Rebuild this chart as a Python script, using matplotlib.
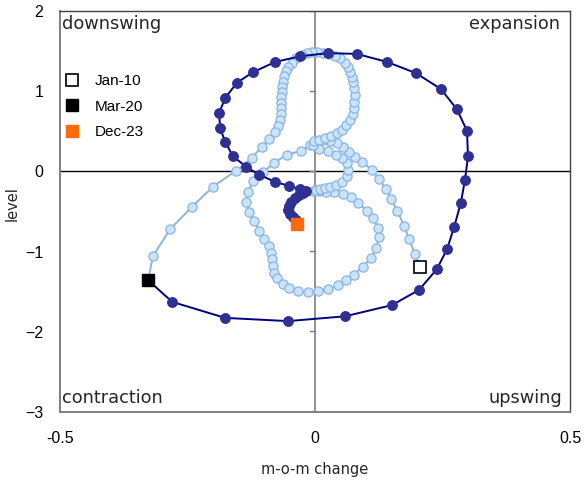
import matplotlib
matplotlib.use("Agg")
import matplotlib.pyplot as plt

# Jan-10 .. Mar-20 (light series)
light_x = [0.206, 0.196, 0.184, 0.175, 0.161, 0.149, 0.139, 0.125, 0.112, 0.092,
           0.078, 0.067, 0.055, 0.043, 0.029, 0.016, 0.004, -0.010, -0.027, -0.055,
           -0.080, -0.102, -0.122, -0.131, -0.135, -0.129, -0.120, -0.110, -0.100, -0.090,
           -0.086, -0.084, -0.082, -0.080, -0.075, -0.063, -0.051, -0.033, -0.014, 0.006,
           0.025, 0.045, 0.061, 0.076, 0.094, 0.110, 0.120, 0.125, 0.124, 0.114,
           0.102, 0.084, 0.071, 0.055, 0.037, 0.022, 0.008, -0.004, 0.002, 0.010,
           0.020, 0.029, 0.041, 0.053, 0.063, 0.065, 0.063, 0.053, 0.041, 0.025,
           0.008, -0.004, -0.002, 0.008, 0.020, 0.031, 0.043, 0.053, 0.061, 0.069,
           0.075, 0.076, 0.076, 0.078, 0.076, 0.075, 0.073, 0.069, 0.065, 0.059,
           0.049, 0.039, 0.027, 0.016, 0.004, -0.006, -0.016, -0.025, -0.037, -0.045,
           -0.053, -0.057, -0.061, -0.063, -0.065, -0.065, -0.067, -0.067, -0.067, -0.067,
           -0.069, -0.073, -0.078, -0.090, -0.104, -0.124, -0.155, -0.200, -0.241, -0.284,
           -0.318, -0.327]
light_y = [-1.19, -1.03, -0.84, -0.68, -0.49, -0.34, -0.22, -0.09, 0.02, 0.12,
           0.18, 0.24, 0.31, 0.36, 0.38, 0.39, 0.38, 0.33, 0.26, 0.21,
           0.11, -0.01, -0.12, -0.26, -0.38, -0.51, -0.62, -0.74, -0.84, -0.93,
           -1.02, -1.09, -1.18, -1.27, -1.33, -1.41, -1.46, -1.49, -1.51, -1.49,
           -1.47, -1.42, -1.36, -1.29, -1.19, -1.08, -0.96, -0.82, -0.71, -0.58,
           -0.49, -0.39, -0.32, -0.28, -0.26, -0.26, -0.24, -0.24, -0.23, -0.22,
           -0.21, -0.19, -0.17, -0.13, -0.06, 0.02, 0.11, 0.17, 0.21, 0.26,
           0.28, 0.33, 0.38, 0.39, 0.42, 0.44, 0.48, 0.52, 0.58, 0.64,
           0.72, 0.79, 0.87, 0.96, 1.04, 1.12, 1.18, 1.24, 1.31, 1.36,
           1.42, 1.44, 1.47, 1.48, 1.49, 1.49, 1.48, 1.46, 1.42, 1.36,
           1.31, 1.26, 1.19, 1.12, 1.06, 0.99, 0.93, 0.86, 0.79, 0.72,
           0.64, 0.57, 0.49, 0.41, 0.31, 0.17, 0.01, -0.19, -0.44, -0.72,
           -1.06, -1.36]

# Mar-20 .. Dec-23 (dark series)
dark_x = [-0.327, -0.280, -0.176, -0.053, 0.059, 0.151, 0.204, 0.239, 0.259, 0.273,
          0.286, 0.294, 0.300, 0.298, 0.278, 0.247, 0.198, 0.141, 0.082, 0.025,
          -0.029, -0.078, -0.122, -0.153, -0.176, -0.188, -0.186, -0.176, -0.161, -0.135,
          -0.110, -0.078, -0.051, -0.029, -0.018, -0.024, -0.031, -0.039, -0.047, -0.051,
          -0.053, -0.049, -0.043, -0.037, -0.035]
dark_y = [-1.36, -1.63, -1.83, -1.87, -1.81, -1.67, -1.48, -1.22, -0.97, -0.69,
          -0.39, -0.11, 0.19, 0.51, 0.78, 1.03, 1.23, 1.37, 1.47, 1.48,
          1.44, 1.37, 1.24, 1.11, 0.92, 0.73, 0.54, 0.37, 0.19, 0.06,
          -0.04, -0.13, -0.18, -0.22, -0.24, -0.27, -0.29, -0.33, -0.38, -0.43,
          -0.48, -0.53, -0.57, -0.61, -0.66]

legend_labels = ["Jan-10", "Mar-20", "Dec-23"]
quadrant_labels = ["downswing", "expansion", "contraction", "upswing"]
x_ticks = [-0.5, 0, 0.5]
x_tick_labels = ["-0.5", "0", "0.5"]
y_ticks = [-3, -2, -1, 0, 1, 2]

fig = plt.figure(figsize=(5.85, 4.86), dpi=100)
ax = fig.add_axes([60/585, 1-411.5/486, 510/585, 400/486])
ax.set_xlim(-0.5, 0.5)
ax.set_ylim(-3, 2)

ax.axhline(0, color="black", lw=1.0, zorder=1)
ax.axvline(0, color="#7f7f7f", lw=1.2, zorder=1)
for yt in y_ticks:
    ax.plot([-0.01, 0], [yt, yt], color="#7f7f7f", lw=1.0, zorder=1)

ax.plot(light_x, light_y, color="#8db3e2", lw=1.4, marker="o", ms=6.6,
        mfc="#c9e4fd", mec="#8db3e2", mew=0.9, zorder=2)
ax.plot(dark_x, dark_y, color="#000080", lw=1.4, marker="o", ms=7.0,
        mfc="#2e3192", mec="#2e3192", mew=0.8, zorder=3)

h1 = ax.plot([light_x[0]], [light_y[0]], ls="none", marker="s", ms=8.5,
             mfc="white", mec="black", mew=1.2, zorder=5)[0]
h2 = ax.plot([light_x[-1]], [light_y[-1]], ls="none", marker="s", ms=8.5,
             mfc="black", mec="black", mew=1.0, zorder=5)[0]
h3 = ax.plot([dark_x[-1]], [dark_y[-1]], ls="none", marker="s", ms=8.5,
             mfc="#ff6a0d", mec="#ff6a0d", mew=1.0, zorder=5)[0]

ax.legend([h1, h2, h3], legend_labels, loc="upper left",
          bbox_to_anchor=(-0.009, 0.87), frameon=False, handlelength=0.8,
          handletextpad=1.05, labelspacing=0.75, borderaxespad=0.3,
          prop={"family": "Liberation Sans", "size": 11})

cfont = {"family": "DejaVu Sans", "size": 12.8, "color": "#262626"}
ax.text(0.004, 0.992, quadrant_labels[0], transform=ax.transAxes, ha="left", va="top", **cfont)
ax.text(0.98, 0.992, quadrant_labels[1], transform=ax.transAxes, ha="right", va="top", **cfont)
ax.text(0.004, 0.012, quadrant_labels[2], transform=ax.transAxes, ha="left", va="bottom", **cfont)
ax.text(0.984, 0.012, quadrant_labels[3], transform=ax.transAxes, ha="right", va="bottom", **cfont)

ax.set_xticks(x_ticks)
ax.set_xticklabels(x_tick_labels)
ax.set_yticks(y_ticks)
ax.tick_params(length=0, labelsize=11.5)
for lab in ax.get_xticklabels() + ax.get_yticklabels():
    lab.set_fontfamily("Liberation Sans")
ax.tick_params(axis="x", pad=14)
ax.tick_params(axis="y", pad=12)

for s in ["left", "bottom"]:
    ax.spines[s].set_color("#7f7f7f")
    ax.spines[s].set_linewidth(1.4)
for s in ["right", "top"]:
    ax.spines[s].set_color("#404040")
    ax.spines[s].set_linewidth(1.0)

ax.set_xlabel("m-o-m change", fontsize=10.5, family="DejaVu Sans", color="#262626")
ax.xaxis.set_label_coords(0.5, -0.125)
ax.xaxis.label.set_va("top")
ax.set_ylabel("level", fontsize=10.5, family="DejaVu Sans", color="#262626")
ax.yaxis.set_label_coords(-0.08, 0.52)

fig.savefig("out.png", dpi=100)
